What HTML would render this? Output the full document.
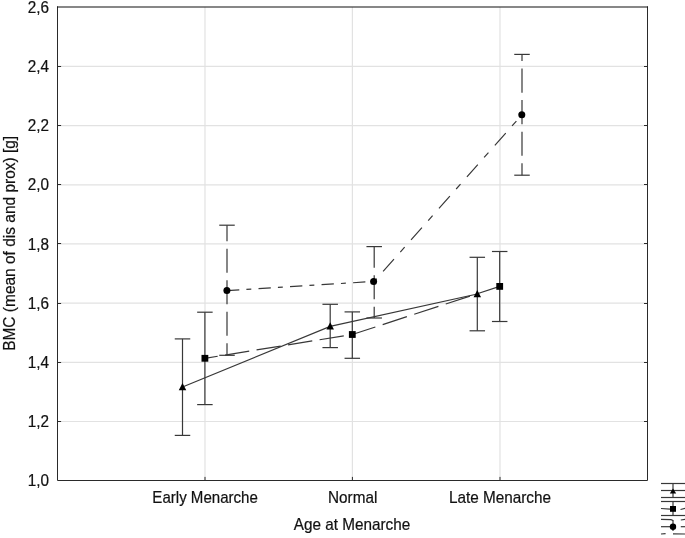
<!DOCTYPE html><html><head><meta charset="utf-8"><style>html,body{margin:0;padding:0;background:#fff;}svg{display:block;will-change:transform;}text{font-family:"Liberation Sans",sans-serif;font-size:15.3px;fill:#111;stroke:#111;stroke-width:0.2px;}</style></head><body>
<svg width="685" height="538" viewBox="0 0 685 538">
<rect width="685" height="538" fill="#fff"/>
<g stroke="#e2e2e2" stroke-width="1.2" fill="none">
<line x1="57.5" y1="421.5" x2="647.5" y2="421.5"/>
<line x1="57.5" y1="362.3" x2="647.5" y2="362.3"/>
<line x1="57.5" y1="303.1" x2="647.5" y2="303.1"/>
<line x1="57.5" y1="243.9" x2="647.5" y2="243.9"/>
<line x1="57.5" y1="184.8" x2="647.5" y2="184.8"/>
<line x1="57.5" y1="125.6" x2="647.5" y2="125.6"/>
<line x1="57.5" y1="66.4" x2="647.5" y2="66.4"/>
<line x1="205.0" y1="7.0" x2="205.0" y2="480.5"/>
<line x1="352.4" y1="7.0" x2="352.4" y2="480.5"/>
<line x1="500.0" y1="7.0" x2="500.0" y2="480.5"/>
</g>
<g stroke="#2a2a2a" stroke-width="1" fill="none">
<line x1="57.5" y1="421.5" x2="61.1" y2="421.5"/>
<line x1="644.0" y1="421.5" x2="647.5" y2="421.5"/>
<line x1="57.5" y1="362.5" x2="61.1" y2="362.5"/>
<line x1="644.0" y1="362.5" x2="647.5" y2="362.5"/>
<line x1="57.5" y1="303.5" x2="61.1" y2="303.5"/>
<line x1="644.0" y1="303.5" x2="647.5" y2="303.5"/>
<line x1="57.5" y1="243.5" x2="61.1" y2="243.5"/>
<line x1="644.0" y1="243.5" x2="647.5" y2="243.5"/>
<line x1="57.5" y1="184.5" x2="61.1" y2="184.5"/>
<line x1="644.0" y1="184.5" x2="647.5" y2="184.5"/>
<line x1="57.5" y1="125.5" x2="61.1" y2="125.5"/>
<line x1="644.0" y1="125.5" x2="647.5" y2="125.5"/>
<line x1="57.5" y1="66.5" x2="61.1" y2="66.5"/>
<line x1="644.0" y1="66.5" x2="647.5" y2="66.5"/>
<line x1="205.0" y1="476.9" x2="205.0" y2="480.5"/>
<line x1="352.4" y1="476.9" x2="352.4" y2="480.5"/>
<line x1="500.0" y1="476.9" x2="500.0" y2="480.5"/>
<path d="M57.5 6.4 V480.5 H647.5 V6.4"/>
<line x1="57.0" y1="7.0" x2="648.0" y2="7.0" stroke="#111" stroke-width="1.2"/>
</g>
<text transform="translate(49.00,486.25) scale(1.0000,1.0300)" text-anchor="end">1,0</text>
<text transform="translate(49.00,427.06) scale(1.0000,1.0300)" text-anchor="end">1,2</text>
<text transform="translate(49.00,367.88) scale(1.0000,1.0300)" text-anchor="end">1,4</text>
<text transform="translate(49.00,308.69) scale(1.0000,1.0300)" text-anchor="end">1,6</text>
<text transform="translate(49.00,249.50) scale(1.0000,1.0300)" text-anchor="end">1,8</text>
<text transform="translate(49.00,190.31) scale(1.0000,1.0300)" text-anchor="end">2,0</text>
<text transform="translate(49.00,131.12) scale(1.0000,1.0300)" text-anchor="end">2,2</text>
<text transform="translate(49.00,71.94) scale(1.0000,1.0300)" text-anchor="end">2,4</text>
<text transform="translate(49.00,12.75) scale(1.0000,1.0300)" text-anchor="end">2,6</text>
<text transform="translate(205.10,502.80) scale(0.9860,1.0300)" text-anchor="middle">Early Menarche</text>
<text transform="translate(352.65,502.80) scale(1.0000,1.0300)" text-anchor="middle">Normal</text>
<text transform="translate(500.00,502.80) scale(1.0000,1.0300)" text-anchor="middle">Late Menarche</text>
<text transform="translate(352.05,529.70) scale(1.0000,1.0300)" text-anchor="middle">Age at Menarche</text>
<text transform="translate(15.00,243.35) rotate(-90) scale(1.0120,1.0800)" text-anchor="middle">BMC (mean of dis and prox) [g]</text>
<g stroke="#383838" stroke-width="1.2" fill="none">
<line x1="182.50" y1="338.90" x2="182.50" y2="435.40"/>
<line x1="174.75" y1="338.90" x2="190.25" y2="338.90"/>
<line x1="174.75" y1="435.40" x2="190.25" y2="435.40"/>
<line x1="330.20" y1="304.30" x2="330.20" y2="347.60"/>
<line x1="322.45" y1="304.30" x2="337.95" y2="304.30"/>
<line x1="322.45" y1="347.60" x2="337.95" y2="347.60"/>
<line x1="477.30" y1="257.30" x2="477.30" y2="330.80"/>
<line x1="469.55" y1="257.30" x2="485.05" y2="257.30"/>
<line x1="469.55" y1="330.80" x2="485.05" y2="330.80"/>
<polyline points="182.50,387.00 330.20,326.40 477.30,294.00"/>
<line x1="204.90" y1="312.20" x2="204.90" y2="404.60"/>
<line x1="197.15" y1="312.20" x2="212.65" y2="312.20"/>
<line x1="197.15" y1="404.60" x2="212.65" y2="404.60"/>
<line x1="352.30" y1="311.90" x2="352.30" y2="358.30"/>
<line x1="344.55" y1="311.90" x2="360.05" y2="311.90"/>
<line x1="344.55" y1="358.30" x2="360.05" y2="358.30"/>
<line x1="499.70" y1="251.50" x2="499.70" y2="321.50"/>
<line x1="491.95" y1="251.50" x2="507.45" y2="251.50"/>
<line x1="491.95" y1="321.50" x2="507.45" y2="321.50"/>
<line x1="204.90" y1="358.30" x2="352.30" y2="334.50" stroke-dasharray="24.51 7.42" stroke-dashoffset="11.55"/>
<line x1="352.30" y1="334.50" x2="499.70" y2="286.40" stroke-dasharray="25.46 7.71" stroke-dashoffset="1.21"/>
<line x1="227.00" y1="355.30" x2="227.00" y2="225.20" stroke-dasharray="24.10 7.45" stroke-dashoffset="12.10"/>
<line x1="219.25" y1="225.20" x2="234.75" y2="225.20"/>
<line x1="219.25" y1="355.30" x2="234.75" y2="355.30"/>
<line x1="374.20" y1="318.00" x2="374.20" y2="246.60" stroke-dasharray="24.10 7.45" stroke-dashoffset="12.80"/>
<line x1="366.45" y1="246.60" x2="381.95" y2="246.60"/>
<line x1="366.45" y1="318.00" x2="381.95" y2="318.00"/>
<line x1="522.00" y1="175.20" x2="522.00" y2="54.40" stroke-dasharray="24.10 7.45" stroke-dashoffset="12.10"/>
<line x1="514.25" y1="54.40" x2="529.75" y2="54.40"/>
<line x1="514.25" y1="175.20" x2="529.75" y2="175.20"/>
<line x1="227.00" y1="290.60" x2="374.30" y2="281.40" stroke-dasharray="12.32 7.11 4.91 7.24" stroke-dashoffset="0.00"/>
<line x1="374.30" y1="281.40" x2="522.00" y2="114.70" stroke-dasharray="16.43 9.49 6.55 9.66" stroke-dashoffset="28.86"/>
</g>
<g fill="#000" stroke="none">
<path d="M182.50 382.90 L186.25 390.20 L178.75 390.20 Z"/>
<rect x="201.50" y="354.90" width="6.8" height="6.8"/>
<circle cx="226.90" cy="290.60" r="3.5"/>
<path d="M330.20 322.30 L333.95 329.60 L326.45 329.60 Z"/>
<rect x="348.90" y="331.10" width="6.8" height="6.8"/>
<circle cx="373.60" cy="281.40" r="3.5"/>
<path d="M477.30 289.90 L481.05 297.20 L473.55 297.20 Z"/>
<rect x="496.30" y="283.00" width="6.8" height="6.8"/>
<circle cx="521.80" cy="114.70" r="3.5"/>
</g>
<g stroke="#383838" stroke-width="1.2" fill="none">
<line x1="661.0" y1="483.5" x2="686" y2="483.5"/>
<line x1="661.0" y1="490.5" x2="686" y2="490.5"/>
<line x1="661.0" y1="497.5" x2="686" y2="497.5"/>
<line x1="673.0" y1="483.5" x2="673.0" y2="497.5"/>
<line x1="661.0" y1="501.5" x2="686" y2="501.5"/>
<line x1="661.0" y1="515.5" x2="686" y2="515.5"/>
<line x1="673.0" y1="501.5" x2="673.0" y2="515.5"/>
<line x1="661" y1="508.5" x2="670" y2="509.2"/>
<line x1="680.5" y1="509.5" x2="686" y2="508.2"/>
<path d="M661 519.3 L671 519.6 L673 520.5"/>
<line x1="680.8" y1="520" x2="686" y2="519.2"/>
<line x1="661" y1="526.7" x2="670" y2="526.7"/>
<line x1="680.8" y1="526.7" x2="686" y2="526.7"/>
<line x1="661" y1="534" x2="665.6" y2="533.6"/>
<line x1="673" y1="533.8" x2="686" y2="534"/>
<line x1="673" y1="520" x2="673" y2="531"/>
</g>
<g fill="#000">
<path d="M673 488.6 L676.2 493.6 L669.8 493.6 Z"/>
<rect x="670" y="506" width="6" height="5.8"/>
<circle cx="673" cy="526.7" r="3.2"/>
</g>
</svg></body></html>
